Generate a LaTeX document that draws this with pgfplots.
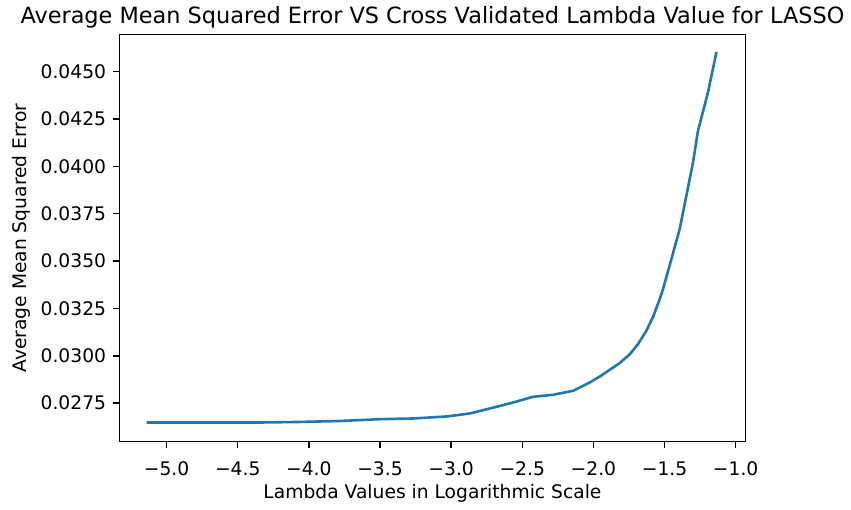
\documentclass[border=0pt]{standalone}
\usepackage{fontspec}
\setmainfont{DejaVu Sans}
\usepackage{pgfplots}
\pgfplotsset{compat=1.18}
\definecolor{mplblue}{HTML}{1F77B4}

\begin{document}
\begin{tikzpicture}
\begin{axis}[
  scale only axis,
  width=313.35pt,
  height=203.65pt,
  xmin=-5.333, xmax=-0.930,
  ymin=0.025464, ymax=0.046946,
  xtick={-5.0,-4.5,-4.0,-3.5,-3.0,-2.5,-2.0,-1.5,-1.0},
  xticklabels={−5.0,−4.5,−4.0,−3.5,−3.0,−2.5,−2.0,−1.5,−1.0},
  ytick={0.0275,0.0300,0.0325,0.0350,0.0375,0.0400,0.0425,0.0450},
  yticklabel style={/pgf/number format/.cd, fixed, fixed zerofill, precision=4, assume math mode=true},
  xticklabel style={yshift=-3.5pt},
  scaled y ticks=false,
  tick align=outside,
  xtick pos=bottom, ytick pos=left,
  major tick length=3.06pt,
  tick style={line width=0.7pt, black},
  axis line style={line width=0.7pt, black},
  tick label style={font=\fontsize{9.35}{11}\selectfont},
  label style={font=\fontsize{9.35}{11}\selectfont},
  every axis title shift=0pt,
  title style={font=\fontsize{11.2}{13}\selectfont, at={(axis description cs:0.5,1.027)}, anchor=base},
  xlabel style={at={(axis description cs:0.5,-0.1400)}, anchor=base},
  ylabel style={at={(axis description cs:-0.1478,0.5)}, anchor=base, rotate=0},
  title={Average Mean Squared Error VS Cross Validated Lambda Value for LASSO},
  xlabel={Lambda Values in Logarithmic Scale},
  ylabel={Average Mean Squared Error},
]
% averaged cross-validated MSE against log10(lambda)
\addplot[color=mplblue, line width=1.3pt, line join=round] table[row sep=\\] {
x y \\
-5.141 0.026480 \\
-4.766 0.026480 \\
-4.344 0.026480 \\
-4.063 0.026510 \\
-3.782 0.026560 \\
-3.501 0.026656 \\
-3.267 0.026693 \\
-3.032 0.026799 \\
-2.869 0.026957 \\
-2.728 0.027220 \\
-2.564 0.027537 \\
-2.424 0.027838 \\
-2.283 0.027943 \\
-2.143 0.028154 \\
-2.096 0.028328 \\
-2.026 0.028592 \\
-1.955 0.028908 \\
-1.885 0.029262 \\
-1.815 0.029620 \\
-1.744 0.030084 \\
-1.687 0.030612 \\
-1.628 0.031319 \\
-1.581 0.032050 \\
-1.534 0.032985 \\
-1.511 0.033513 \\
-1.452 0.035095 \\
-1.394 0.036677 \\
-1.347 0.038439 \\
-1.300 0.040195 \\
-1.265 0.041867 \\
-1.195 0.043887 \\
-1.135 0.046034 \\
};
\end{axis}
\path ([xshift=-59.65pt,yshift=-32.35pt]current axis.south west) rectangle ++(425.5pt,252pt);
\end{tikzpicture}
\end{document}
